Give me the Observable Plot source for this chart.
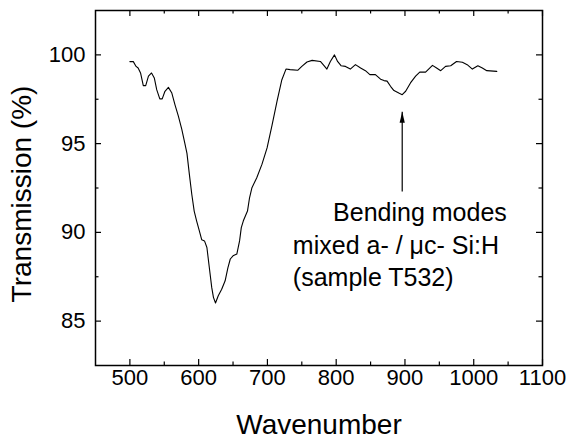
<!DOCTYPE html>
<html>
<head>
<meta charset="utf-8">
<script src="https://cdn.jsdelivr.net/npm/d3@7"></script>
<script src="https://cdn.jsdelivr.net/npm/@observablehq/plot@0.6"></script>
<style>
  html, body { margin: 0; padding: 0; background: #fff; }
  #chart { width: 568px; height: 440px; }
</style>
</head>
<body>
<div id="chart"></div>
<script>
// Spectrum
const wavenumber = [500, 505, 509, 512, 515.5, 519.5, 523, 527, 531.5, 535.5, 539, 543.5, 547, 551, 556, 561, 565.5, 570.5, 575.5, 580, 583, 586.5, 590, 593.5, 597, 601, 604.5, 608.5, 612, 615.5, 619, 621.5, 624.5, 628.5, 633.5, 638.5, 642.5, 646, 650, 655.5, 659.5, 662, 665, 671, 674, 677.5, 684.5, 692, 699.5, 706.5, 714, 721, 727, 733, 744, 750, 757.5, 765, 777, 782, 786.5, 791.5, 797.5, 802, 807, 813.5, 820.5, 828, 835.5, 842.5, 849, 857, 864.5, 869.5, 874, 879, 884, 891, 896, 901, 908, 915.5, 921.5, 930, 940, 946, 952, 959, 966.5, 975, 983.5, 990.5, 998, 1006, 1012.5, 1019, 1033.5];
const transmission = [99.62, 99.62, 99.35, 99.26, 98.98, 98.27, 98.27, 98.8, 98.98, 98.7, 98.04, 97.52, 97.52, 97.95, 98.17, 97.85, 97.2, 96.55, 95.8, 95.0, 94.45, 93.27, 92.15, 91.2, 90.65, 90.08, 89.58, 89.52, 89.15, 88.02, 86.9, 86.34, 86.02, 86.43, 86.8, 87.27, 88.0, 88.5, 88.68, 88.78, 89.52, 90.27, 90.65, 91.2, 91.95, 92.52, 93.08, 93.83, 94.76, 96.0, 97.4, 98.6, 99.2, 99.17, 99.13, 99.35, 99.6, 99.69, 99.63, 99.41, 99.2, 99.63, 100.0, 99.63, 99.39, 99.35, 99.2, 99.45, 99.26, 99.11, 98.89, 98.89, 98.63, 98.55, 98.52, 98.23, 97.99, 97.85, 97.76, 97.95, 98.42, 98.8, 99.03, 99.03, 99.41, 99.26, 99.11, 99.35, 99.39, 99.63, 99.58, 99.45, 99.2, 99.39, 99.26, 99.11, 99.07];

// Axes
const xDomain = [450, 1100];
const yDomain = [82.5, 102.5];
const xMajorTicks = [500, 600, 700, 800, 900, 1000, 1100];
const xMinorTicks = [550, 650, 750, 850, 950, 1050];
const yMajorTicks = [85, 90, 95, 100];
const yMinorTicks = [87.5, 92.5, 97.5];
const xTitle = "Wavenumber";
const yTitle = "Transmission (%)";

// Annotation
const annotationLines = ["Bending modes", "mixed a- / \u03bcc- Si:H", "(sample T532)"];
const annotationX = [795.5, 737, 737];
const annotationY = [90.65, 88.8, 87.0];
const arrowX = 896;
const arrowFromY = 92.3;
const arrowToY = 96.8;

const spectrum = wavenumber.map((w, i) => ({w, t: transmission[i]}));
const annotation = annotationLines.map((s, i) => ({s, x: annotationX[i], y: annotationY[i]}));

const W = 568, H = 440;
const mt = 10, mr = 26, mb = 75, ml = 95;
const innerW = W - ml - mr, innerH = H - mt - mb;
const major = 6, minor = 3.5;

function headMarker(color) {
  const ns = "http://www.w3.org/2000/svg";
  const m = document.createElementNS(ns, "marker");
  m.setAttribute("viewBox", "-11 -3 11 6");
  m.setAttribute("markerWidth", "11");
  m.setAttribute("markerHeight", "6");
  m.setAttribute("markerUnits", "userSpaceOnUse");
  m.setAttribute("refX", "0");
  m.setAttribute("refY", "0");
  m.setAttribute("orient", "auto");
  const p = document.createElementNS(ns, "path");
  p.setAttribute("d", "M-11,-2.6L0,0L-11,2.6Z");
  p.setAttribute("fill", "#000");
  p.setAttribute("stroke", "none");
  m.appendChild(p);
  return m;
}

const chart = Plot.plot({
  width: W,
  height: H,
  marginTop: mt, marginRight: mr, marginBottom: mb, marginLeft: ml,
  style: {fontFamily: "'Liberation Sans', Arial, sans-serif", background: "#fff", color: "#000"},
  x: {domain: xDomain, axis: null},
  y: {domain: yDomain, axis: null},
  marks: [
    Plot.frame({stroke: "#000", strokeWidth: 1.5}),
    // inward ticks on all four sides
    Plot.tickX(xMajorTicks, {x: d => d, insetTop: innerH - major, stroke: "#000", strokeWidth: 1.2}),
    Plot.tickX(xMajorTicks, {x: d => d, insetBottom: innerH - major, stroke: "#000", strokeWidth: 1.2}),
    Plot.tickX(xMinorTicks, {x: d => d, insetTop: innerH - minor, stroke: "#000", strokeWidth: 1.2}),
    Plot.tickX(xMinorTicks, {x: d => d, insetBottom: innerH - minor, stroke: "#000", strokeWidth: 1.2}),
    Plot.tickY(yMajorTicks, {y: d => d, insetRight: innerW - major, stroke: "#000", strokeWidth: 1.2}),
    Plot.tickY(yMajorTicks, {y: d => d, insetLeft: innerW - major, stroke: "#000", strokeWidth: 1.2}),
    Plot.tickY(yMinorTicks, {y: d => d, insetRight: innerW - minor, stroke: "#000", strokeWidth: 1.2}),
    Plot.tickY(yMinorTicks, {y: d => d, insetLeft: innerW - minor, stroke: "#000", strokeWidth: 1.2}),
    // tick labels
    Plot.axisX({ticks: xMajorTicks, tickSize: 0, tickPadding: 4, fontSize: 22, label: null, tickFormat: d => String(d)}),
    Plot.axisY({ticks: yMajorTicks, tickSize: 0, tickPadding: 10, fontSize: 22, label: null, tickFormat: d => String(d)}),
    // axis titles
    Plot.text([xTitle], {text: d => d, frameAnchor: "bottom", dy: 68, lineAnchor: "bottom", fontSize: 28, fill: "#000"}),
    Plot.text([yTitle], {text: d => d, frameAnchor: "left", dx: -84, dy: 6, rotate: -90, textAnchor: "middle", lineAnchor: "top", fontSize: 28, fill: "#000"}),
    // spectrum
    Plot.line(spectrum, {x: "w", y: "t", stroke: "#000", strokeWidth: 1.1}),
    // annotation
    Plot.link([{x: arrowX, y1: arrowFromY, y2: arrowToY}], {x1: "x", x2: "x", y1: "y1", y2: "y2", stroke: "#000", strokeWidth: 1.2, markerEnd: headMarker}),
    Plot.text(annotation, {x: "x", y: "y", text: "s", textAnchor: "start", lineAnchor: "bottom", fontSize: 25, fill: "#000"})
  ]
});
document.getElementById("chart").appendChild(chart);
</script>
</body>
</html>
